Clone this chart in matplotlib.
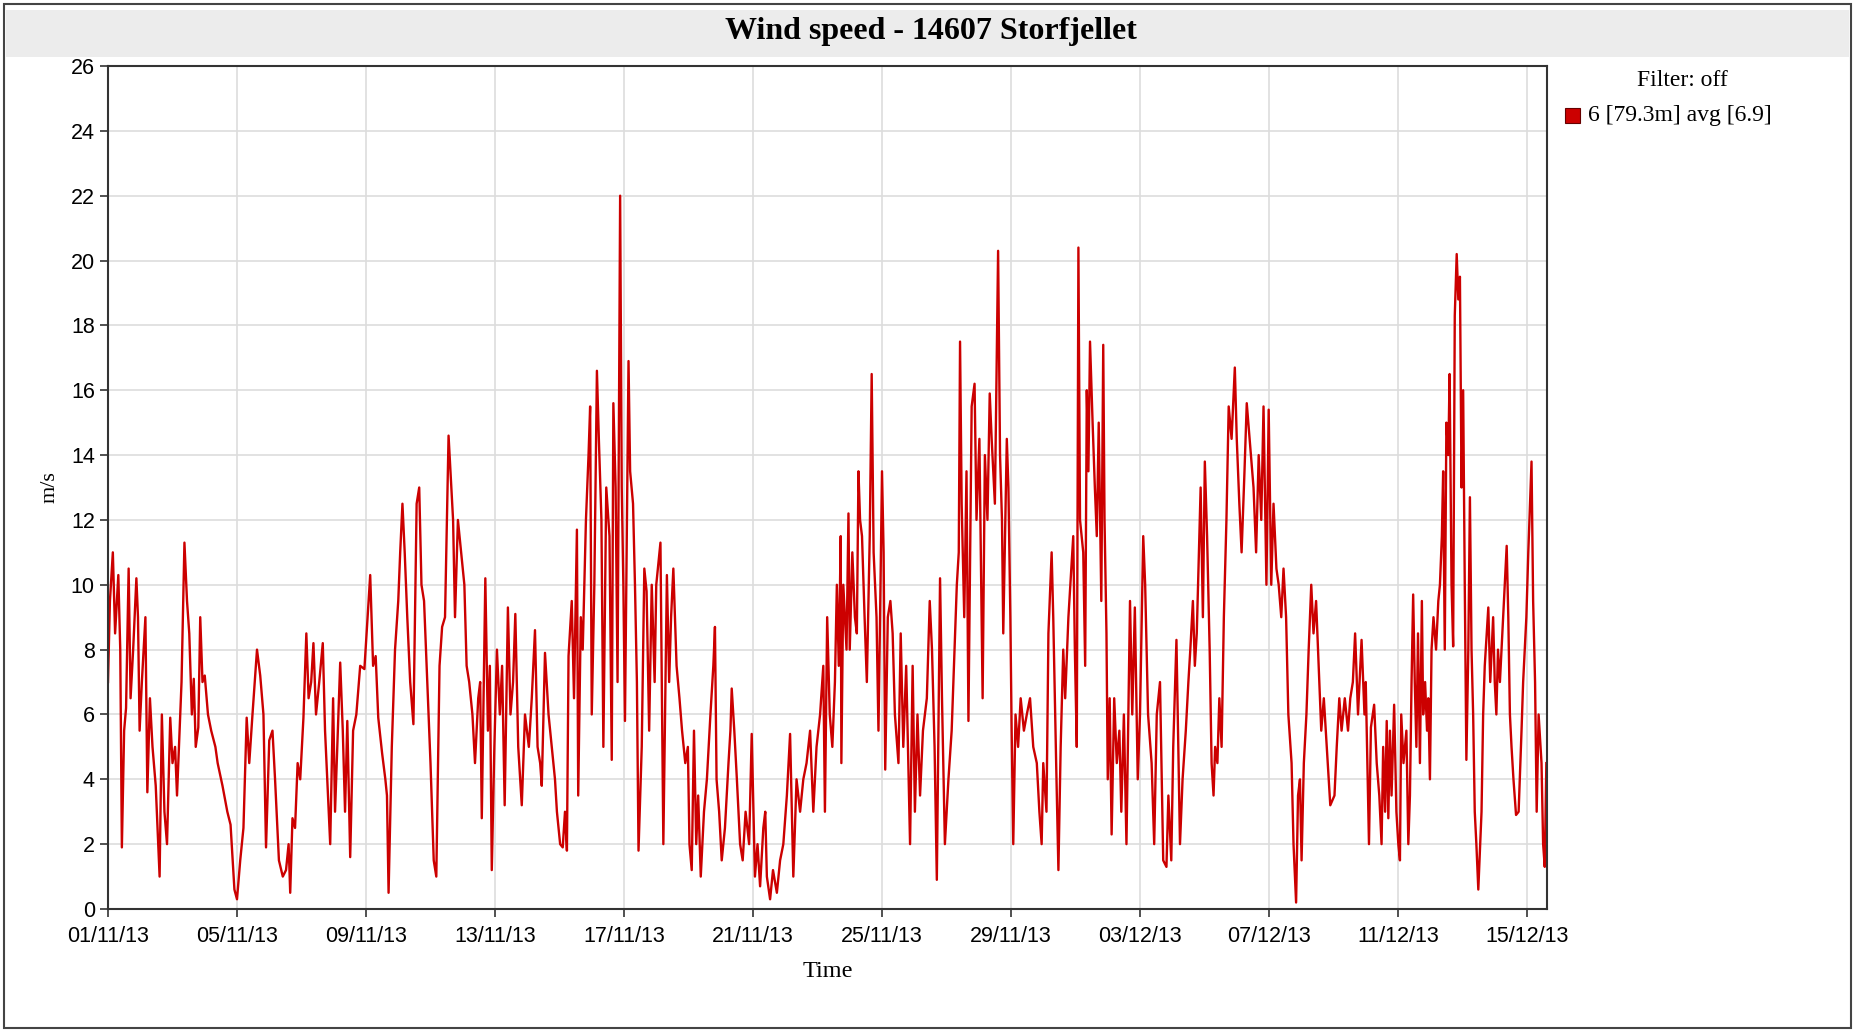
import datetime as dt
import matplotlib
matplotlib.use("Agg")
import matplotlib.pyplot as plt
import matplotlib.dates as mdates
from matplotlib.patches import Rectangle

# readings: (days after 01/11/13 00:00, wind speed m/s)
seg_a = [(0.00, 7.0), (0.06, 9.5), (0.15, 11.0), (0.22, 8.5), (0.32, 10.3), (0.38, 8.0), (0.43, 1.9),
         (0.50, 5.5), (0.56, 6.2), (0.64, 10.5), (0.70, 6.5), (0.78, 8.0), (0.88, 10.2), (0.93, 9.0),
         (0.98, 5.5), (1.05, 7.0), (1.16, 9.0), (1.22, 3.6), (1.30, 6.5), (1.38, 5.0), (1.48, 3.8),
         (1.60, 1.0), (1.67, 6.0), (1.75, 3.0), (1.83, 2.0), (1.93, 5.9), (2.00, 4.5), (2.08, 5.0),
         (2.14, 3.5), (2.28, 7.0), (2.37, 11.3), (2.45, 9.5), (2.52, 8.5), (2.60, 6.0), (2.66, 7.1),
         (2.72, 5.0), (2.80, 5.6), (2.86, 9.0), (2.93, 7.0), (3.00, 7.2), (3.10, 6.0), (3.20, 5.5),
         (3.33, 5.0), (3.40, 4.5), (3.55, 3.8), (3.70, 3.0), (3.80, 2.6), (3.92, 0.6), (4.00, 0.3),
         (4.10, 1.5), (4.20, 2.5), (4.30, 5.9), (4.38, 4.5), (4.48, 6.0), (4.62, 8.0), (4.72, 7.2),
         (4.82, 6.0), (4.90, 1.9), (5.00, 5.2), (5.10, 5.5), (5.18, 4.0), (5.30, 1.5), (5.42, 1.0),
         (5.52, 1.2)]
seg_b = [(5.60, 2.0), (5.65, 0.5), (5.72, 2.8), (5.80, 2.5), (5.88, 4.5), (5.96, 4.0), (6.06, 5.9),
         (6.15, 8.5), (6.22, 6.5), (6.30, 7.0), (6.37, 8.2), (6.45, 6.0), (6.55, 7.0), (6.66, 8.2),
         (6.73, 5.5), (6.89, 2.0), (6.98, 6.5), (7.04, 3.0), (7.20, 7.6), (7.28, 5.5), (7.35, 3.0),
         (7.42, 5.8), (7.51, 1.6), (7.60, 5.5), (7.70, 6.0), (7.82, 7.5), (7.95, 7.4), (8.13, 10.3),
         (8.22, 7.5), (8.30, 7.8), (8.38, 5.9), (8.50, 4.8), (8.60, 4.0), (8.65, 3.5), (8.70, 0.5),
         (8.80, 5.0), (8.90, 8.0), (9.00, 9.5), (9.06, 11.0), (9.13, 12.5), (9.20, 11.0), (9.28, 9.0),
         (9.37, 7.0), (9.47, 5.7), (9.57, 12.5), (9.65, 13.0), (9.72, 10.0), (9.80, 9.5), (9.90, 7.0),
         (10.00, 4.5), (10.10, 1.5), (10.18, 1.0), (10.28, 7.5), (10.36, 8.7), (10.45, 9.0),
         (10.56, 14.6), (10.62, 13.5), (10.70, 12.0), (10.76, 9.0), (10.85, 12.0), (10.95, 11.0),
         (11.05, 10.0)]
seg_c = [(11.12, 7.5), (11.20, 7.0), (11.30, 6.0), (11.38, 4.5), (11.48, 6.5), (11.54, 7.0),
         (11.59, 2.8), (11.70, 10.2), (11.78, 5.5), (11.84, 7.5), (11.90, 1.2), (11.98, 5.0),
         (12.06, 8.0), (12.15, 6.0), (12.22, 7.5), (12.30, 3.2), (12.40, 9.3), (12.48, 6.0),
         (12.56, 7.0), (12.63, 9.1), (12.72, 5.0), (12.83, 3.2), (12.93, 6.0), (13.05, 5.0),
         (13.14, 6.5), (13.24, 8.6), (13.32, 5.0), (13.40, 4.5), (13.45, 3.8), (13.55, 7.9),
         (13.66, 6.0), (13.76, 5.0), (13.86, 4.0), (13.92, 3.0), (14.02, 2.0), (14.10, 1.9),
         (14.17, 3.0), (14.23, 1.8), (14.28, 7.8), (14.38, 9.5), (14.45, 6.5), (14.54, 11.7),
         (14.58, 3.5), (14.66, 9.0), (14.72, 8.0), (14.82, 12.0), (14.90, 14.0), (14.95, 15.5),
         (15.00, 6.0), (15.08, 10.0), (15.16, 16.6), (15.22, 14.5), (15.30, 12.0), (15.36, 5.0),
         (15.45, 13.0), (15.55, 11.5), (15.62, 4.6), (15.67, 15.6), (15.74, 13.0), (15.80, 7.0),
         (15.88, 22.0), (15.93, 13.0), (15.98, 10.0), (16.03, 5.8), (16.08, 11.0), (16.14, 16.9),
         (16.19, 13.5), (16.28, 12.5), (16.34, 10.0), (16.40, 7.0), (16.45, 1.8)]
seg_d = [(16.55, 5.0), (16.63, 10.5), (16.70, 9.8), (16.78, 5.5), (16.86, 10.0), (16.95, 7.0),
         (17.00, 10.0), (17.13, 11.3), (17.22, 2.0), (17.33, 10.3), (17.40, 7.0), (17.46, 9.0),
         (17.53, 10.5), (17.63, 7.5), (17.72, 6.5), (17.80, 5.5), (17.90, 4.5), (17.98, 5.0),
         (18.03, 2.0), (18.10, 1.2), (18.17, 5.5), (18.24, 2.0), (18.30, 3.5), (18.38, 1.0),
         (18.48, 3.0), (18.57, 4.0), (18.68, 6.0), (18.77, 7.5), (18.82, 8.7), (18.87, 4.0),
         (18.95, 3.0), (19.03, 1.5), (19.13, 2.5), (19.24, 4.5), (19.30, 5.5), (19.34, 6.8),
         (19.42, 5.5), (19.50, 4.0), (19.60, 2.0), (19.68, 1.5), (19.77, 3.0), (19.88, 2.0),
         (19.96, 5.4), (20.06, 1.0), (20.14, 2.0), (20.22, 0.7), (20.32, 2.5), (20.38, 3.0),
         (20.43, 1.0), (20.53, 0.3), (20.62, 1.2), (20.74, 0.5), (20.84, 1.5), (20.94, 2.0),
         (21.05, 3.5), (21.15, 5.4), (21.25, 1.0), (21.35, 4.0), (21.46, 3.0), (21.56, 4.0),
         (21.66, 4.5), (21.77, 5.5), (21.87, 3.0), (21.97, 5.0), (22.08, 6.0), (22.18, 7.5)]
seg_e = [(22.23, 3.0), (22.30, 9.0), (22.38, 6.0), (22.46, 5.0), (22.54, 7.0), (22.60, 10.0),
         (22.66, 7.5), (22.72, 11.5), (22.74, 4.5), (22.80, 10.0), (22.90, 8.0), (22.96, 12.2),
         (23.00, 8.0), (23.08, 11.0), (23.16, 9.0), (23.22, 8.5), (23.27, 13.5), (23.32, 12.0),
         (23.38, 11.5), (23.46, 9.0), (23.53, 7.0), (23.62, 11.5), (23.68, 16.5), (23.74, 11.0),
         (23.83, 9.0), (23.89, 5.5), (23.94, 9.0), (24.00, 13.5), (24.05, 11.0), (24.10, 4.3),
         (24.18, 9.0), (24.26, 9.5), (24.33, 8.5), (24.40, 6.0), (24.51, 4.5), (24.58, 8.5),
         (24.66, 5.0), (24.75, 7.5), (24.87, 2.0), (24.95, 7.5), (25.02, 3.0), (25.10, 6.0),
         (25.18, 3.5), (25.27, 5.5), (25.39, 6.5), (25.48, 9.5), (25.55, 8.0), (25.63, 5.0),
         (25.70, 0.9), (25.80, 10.2), (25.86, 6.5), (25.95, 2.0), (26.06, 4.0), (26.16, 5.5),
         (26.25, 8.0), (26.32, 10.0), (26.38, 11.0), (26.42, 17.5), (26.47, 12.5), (26.55, 9.0),
         (26.62, 13.5), (26.68, 5.8), (26.78, 15.5), (26.87, 16.2), (26.93, 12.0), (27.02, 14.5),
         (27.12, 6.5), (27.19, 14.0), (27.27, 12.0), (27.34, 15.9), (27.40, 14.5), (27.50, 12.5),
         (27.60, 20.3), (27.66, 14.0), (27.72, 12.0), (27.76, 8.5), (27.87, 14.5), (27.92, 13.0),
         (27.98, 9.0), (28.02, 5.5)]
seg_f = [(28.07, 2.0), (28.14, 6.0), (28.22, 5.0), (28.30, 6.5), (28.40, 5.5), (28.49, 6.0),
         (28.59, 6.5), (28.69, 5.0), (28.80, 4.5), (28.88, 3.0), (28.95, 2.0), (29.00, 4.5),
         (29.10, 3.0), (29.16, 8.5), (29.26, 11.0), (29.31, 9.0), (29.40, 4.5), (29.47, 1.2),
         (29.54, 5.0), (29.62, 8.0), (29.68, 6.5), (29.78, 9.0), (29.84, 10.0), (29.93, 11.5),
         (29.98, 8.0), (30.04, 5.0), (30.09, 20.4), (30.14, 12.0), (30.24, 11.0), (30.30, 7.5),
         (30.35, 16.0), (30.40, 13.5), (30.45, 17.5), (30.53, 15.0), (30.60, 13.0), (30.66, 11.5),
         (30.72, 15.0), (30.80, 9.5), (30.86, 17.4), (30.90, 12.0), (30.96, 8.5), (31.00, 4.0),
         (31.06, 6.5), (31.12, 2.3), (31.20, 6.5), (31.28, 4.5), (31.36, 5.5), (31.42, 3.0),
         (31.50, 6.0), (31.58, 2.0), (31.69, 9.5), (31.76, 6.0), (31.84, 9.3), (31.93, 4.0),
         (32.00, 6.0), (32.10, 11.5), (32.16, 10.0), (32.25, 6.0), (32.36, 4.5), (32.44, 2.0),
         (32.52, 6.0), (32.62, 7.0), (32.72, 1.5), (32.82, 1.3), (32.88, 3.5), (32.97, 1.5),
         (33.03, 5.0), (33.13, 8.3), (33.24, 2.0), (33.32, 4.0)]
seg_g = [(33.42, 5.5), (33.50, 7.0), (33.56, 8.0), (33.64, 9.5), (33.70, 7.5), (33.76, 8.5),
         (33.80, 10.0), (33.88, 13.0), (33.95, 9.0), (34.01, 13.8), (34.08, 11.5), (34.16, 8.0),
         (34.22, 4.5), (34.28, 3.5), (34.33, 5.0), (34.40, 4.5), (34.46, 6.5), (34.53, 5.0),
         (34.60, 9.0), (34.68, 12.0), (34.75, 15.5), (34.84, 14.5), (34.94, 16.7), (35.00, 14.5),
         (35.08, 12.5), (35.15, 11.0), (35.24, 13.5), (35.31, 15.6), (35.40, 14.5), (35.52, 13.0),
         (35.60, 11.0), (35.68, 14.0), (35.76, 12.0), (35.83, 15.5), (35.92, 10.0), (35.99, 15.4),
         (36.07, 10.0), (36.14, 12.5), (36.23, 10.5), (36.30, 10.0), (36.38, 9.0), (36.45, 10.5),
         (36.53, 9.0), (36.60, 6.0), (36.70, 4.5), (36.76, 2.0), (36.84, 0.2), (36.90, 3.5),
         (36.96, 4.0), (37.01, 1.5), (37.08, 4.5), (37.16, 6.0), (37.23, 8.0), (37.31, 10.0),
         (37.38, 8.5), (37.46, 9.5), (37.54, 7.5), (37.62, 5.5), (37.70, 6.5), (37.82, 4.5),
         (37.90, 3.2), (38.03, 3.5), (38.10, 5.0), (38.18, 6.5), (38.25, 5.5), (38.35, 6.5),
         (38.45, 5.5), (38.52, 6.5), (38.60, 7.0), (38.67, 8.5), (38.76, 6.0), (38.87, 8.3),
         (38.96, 6.0)]
seg_h = [(39.00, 7.0), (39.03, 5.5), (39.10, 2.0), (39.16, 5.6), (39.26, 6.3), (39.34, 4.5),
         (39.42, 3.5), (39.49, 2.0), (39.54, 5.0), (39.60, 3.0), (39.65, 5.8), (39.70, 2.8),
         (39.75, 5.5), (39.80, 3.5), (39.88, 6.3), (39.95, 3.0), (40.01, 2.0), (40.06, 1.5),
         (40.10, 6.0), (40.17, 4.5), (40.26, 5.5), (40.32, 2.0), (40.37, 3.5), (40.42, 7.0),
         (40.47, 9.7), (40.52, 7.0), (40.57, 5.0), (40.62, 8.5), (40.68, 4.5), (40.74, 9.5),
         (40.78, 6.0), (40.84, 7.0), (40.90, 5.5), (40.94, 6.5), (40.99, 4.0), (41.04, 8.0),
         (41.10, 9.0), (41.18, 8.0), (41.25, 9.5), (41.30, 10.0), (41.36, 11.5), (41.40, 13.5),
         (41.45, 8.0), (41.50, 15.0), (41.56, 14.0), (41.60, 16.5), (41.66, 10.0), (41.71, 8.1),
         (41.76, 18.3), (41.82, 20.2), (41.87, 18.8), (41.92, 19.5), (41.97, 13.0), (42.02, 16.0),
         (42.07, 10.0), (42.12, 4.6), (42.18, 8.0), (42.23, 12.7), (42.28, 8.0), (42.33, 6.0),
         (42.38, 3.0), (42.43, 2.0), (42.49, 0.6), (42.59, 3.0), (42.64, 6.0), (42.69, 7.5),
         (42.80, 9.3), (42.86, 7.0), (42.95, 9.0), (43.00, 7.0), (43.05, 6.0), (43.10, 8.0),
         (43.16, 7.0), (43.26, 9.0), (43.37, 11.2), (43.42, 9.0), (43.47, 6.0), (43.52, 5.0),
         (43.58, 4.0), (43.66, 2.9), (43.74, 3.0), (43.83, 5.5), (43.88, 7.0), (43.98, 9.0),
         (44.04, 11.0), (44.14, 13.8), (44.19, 9.5), (44.25, 7.0), (44.30, 3.0), (44.36, 6.0),
         (44.45, 4.5), (44.50, 2.0), (44.55, 1.3), (44.60, 4.5)]

start = dt.datetime(2013, 11, 1)
end_days = 44.62
title = "Wind speed - 14607 Storfjellet"
series_label = "6 [79.3m] avg [6.9]"

readings = seg_a + seg_b + seg_c + seg_d + seg_e + seg_f + seg_g + seg_h
times = [start + dt.timedelta(days=d) for d, v in readings]
speeds = [v for d, v in readings]

W, H = 1855, 1032
fig = plt.figure(figsize=(W / 100, H / 100), dpi=100)

# outer frame and grey title band
fig.patches.append(Rectangle((4 / W, 4 / H), 1 - 8 / W, 1 - 8 / H, transform=fig.transFigure,
                             fill=False, edgecolor="#444444", linewidth=1.5))
fig.patches.append(Rectangle((6 / W, 1 - 57 / H), 1 - 12 / W, 47 / H, transform=fig.transFigure,
                             facecolor="#ececec", edgecolor="none"))
fig.text(931 / W, 1 - 31 / H, title, ha="center", va="center", fontsize=23,
         fontweight="bold", family="Liberation Serif")

ax = fig.add_axes([108 / W, 1 - 909 / H, (1547 - 108) / W, (909 - 66) / H])
line, = ax.plot(times, speeds, color="#cc0000", linewidth=1.7)

ax.set_ylim(0, 26)
ax.set_yticks(range(0, 27, 2))
ax.set_xlim(start, start + dt.timedelta(days=end_days))
ax.set_xticks([start + dt.timedelta(days=4 * i) for i in range(12)])
ax.xaxis.set_major_formatter(mdates.DateFormatter("%d/%m/%y"))
ax.grid(True, color="#dddddd", linewidth=1.2)
ax.set_axisbelow(True)
for s in ax.spines.values():
    s.set_color("#333333")
    s.set_linewidth(1.5)
ax.tick_params(labelsize=15.5, length=6, width=1.2, color="#333333")
ax.tick_params(axis="x", pad=6)
for lab in ax.get_xticklabels() + ax.get_yticklabels():
    lab.set_family("Liberation Sans")

ax.set_ylabel("m/s", family="Liberation Serif", fontsize=16, labelpad=8)
ax.set_xlabel("Time", family="Liberation Serif", fontsize=17.5, labelpad=10)

# legend at the right
fig.text(1682 / W, 1 - 81 / H, "Filter: off", ha="center", va="center",
         fontsize=17, family="Liberation Serif")
fig.patches.append(Rectangle((1565 / W, 1 - 123 / H), 15 / W, 15 / H, transform=fig.transFigure,
                             facecolor="#cc0000", edgecolor="#660000", linewidth=0.8))
fig.text(1588 / W, 1 - 115 / H, series_label, ha="left", va="center",
         fontsize=17, family="Liberation Serif")

fig.savefig("out.png", dpi=100)
